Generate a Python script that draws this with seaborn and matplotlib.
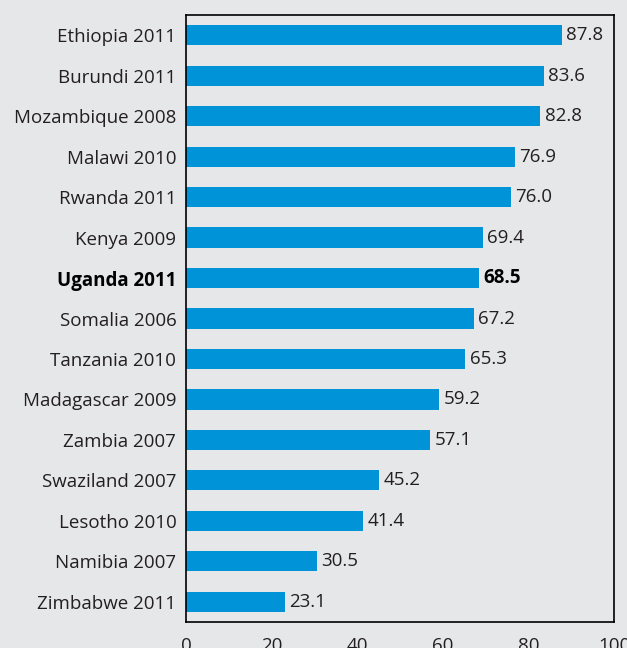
import matplotlib
matplotlib.use("Agg")
import matplotlib.pyplot as plt
import seaborn as sns
import pandas as pd

countries = ["Ethiopia 2011", "Burundi 2011", "Mozambique 2008", "Malawi 2010", "Rwanda 2011",
             "Kenya 2009", "Uganda 2011", "Somalia 2006", "Tanzania 2010", "Madagascar 2009",
             "Zambia 2007", "Swaziland 2007", "Lesotho 2010", "Namibia 2007", "Zimbabwe 2011"]
values = [87.8, 83.6, 82.8, 76.9, 76.0, 69.4, 68.5, 67.2, 65.3, 59.2, 57.1, 45.2, 41.4, 30.5, 23.1]
x_ticks = [0, 20, 40, 60, 80, 100]
highlight = "Uganda 2011"

df = pd.DataFrame({"country": countries, "value": values})

sns.set_theme(style="white")
plt.rcParams["font.family"] = ["Open Sans", "DejaVu Sans"]

bg = "#e6e7e9"
txt = "#231f20"
fig = plt.figure(figsize=(6.27, 6.48), dpi=100, facecolor=bg)
ax = fig.add_axes([186/627, 1-622/648, (614-186)/627, (622-15)/648])
ax.set_facecolor(bg)

sns.barplot(data=df, x="value", y="country", color="#0093d7", saturation=1,
            width=0.5, ax=ax, orient="h", linewidth=0)

ax.set_xlim(0, 100)
ax.set_ylim(14.5, -0.5)
ax.set_xticks(x_ticks)
ax.set_xlabel("")
ax.set_ylabel("")
ax.tick_params(axis="x", direction="in", length=8, width=1.2, color="black",
               labelsize=13.5, pad=11, labelcolor=txt)
ax.tick_params(axis="y", length=0, labelsize=13.5, pad=7, labelcolor=txt)
for lab in ax.get_yticklabels():
    if lab.get_text() == highlight:
        lab.set_fontweight("bold")
        lab.set_color("black")

for i, (c, v) in enumerate(zip(countries, values)):
    ax.text(v + 1.0, i, f"{v:.1f}", va="center", ha="left", fontsize=13.5,
            color="black" if c == highlight else txt,
            fontweight="bold" if c == highlight else "normal")

for s in ax.spines.values():
    s.set_visible(True)
    s.set_color("black")
    s.set_linewidth(1.2)

fig.savefig("out.png", dpi=100, facecolor=bg)
